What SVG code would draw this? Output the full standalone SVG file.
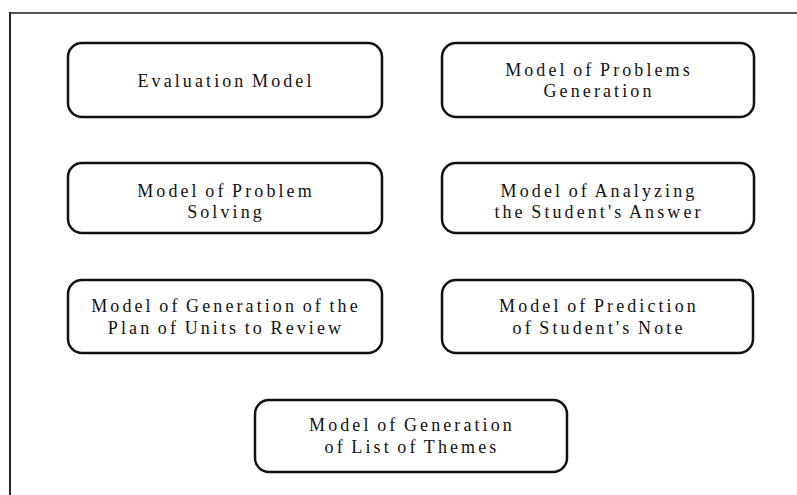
<svg xmlns="http://www.w3.org/2000/svg" width="797" height="495" viewBox="0 0 797 495">
<style>
.box{fill:#ffffff;stroke:#111;stroke-width:2.5}
.t{font-family:"Liberation Serif","Times New Roman",serif;font-size:18px;letter-spacing:3.1px;word-spacing:-2px;fill:#111;text-anchor:middle}
</style>
<rect x="0" y="0" width="797" height="495" fill="#ffffff"/>
<g id="frame">
<line x1="10" y1="13" x2="797" y2="13" stroke="#555" stroke-width="2"/>
<line x1="10" y1="12" x2="10" y2="495" stroke="#222" stroke-width="2"/>
</g>
<g id="connectors"></g>
<g id="n1">
<rect class="box" x="68" y="43" width="314" height="74" rx="14"/>
<text class="t" x="226" y="87">Evaluation Model</text>
</g>
<g id="n2">
<rect class="box" x="442" y="43" width="312" height="74" rx="14"/>
<text class="t" x="599" y="76">Model of Problems</text>
<text class="t" x="599" y="97">Generation</text>
</g>
<g id="n3">
<rect class="box" x="68" y="163" width="314" height="70" rx="14"/>
<text class="t" x="226" y="197">Model of Problem</text>
<text class="t" x="226" y="218">Solving</text>
</g>
<g id="n4">
<rect class="box" x="442" y="163" width="312" height="70" rx="14"/>
<text class="t" x="599" y="197">Model of Analyzing</text>
<text class="t" x="599" y="218">the Student's Answer</text>
</g>
<g id="n5">
<rect class="box" x="68" y="280" width="314" height="73" rx="14"/>
<text class="t" x="226" y="312">Model of Generation of the</text>
<text class="t" x="226" y="334">Plan of Units to Review</text>
</g>
<g id="n6">
<rect class="box" x="442" y="280" width="311" height="73" rx="14"/>
<text class="t" x="599" y="312">Model of Prediction</text>
<text class="t" x="599" y="334">of Student's Note</text>
</g>
<g id="n7">
<rect class="box" x="255" y="400" width="312" height="72" rx="14"/>
<text class="t" x="412" y="431">Model of Generation</text>
<text class="t" x="412" y="453">of List of Themes</text>
</g>
</svg>
